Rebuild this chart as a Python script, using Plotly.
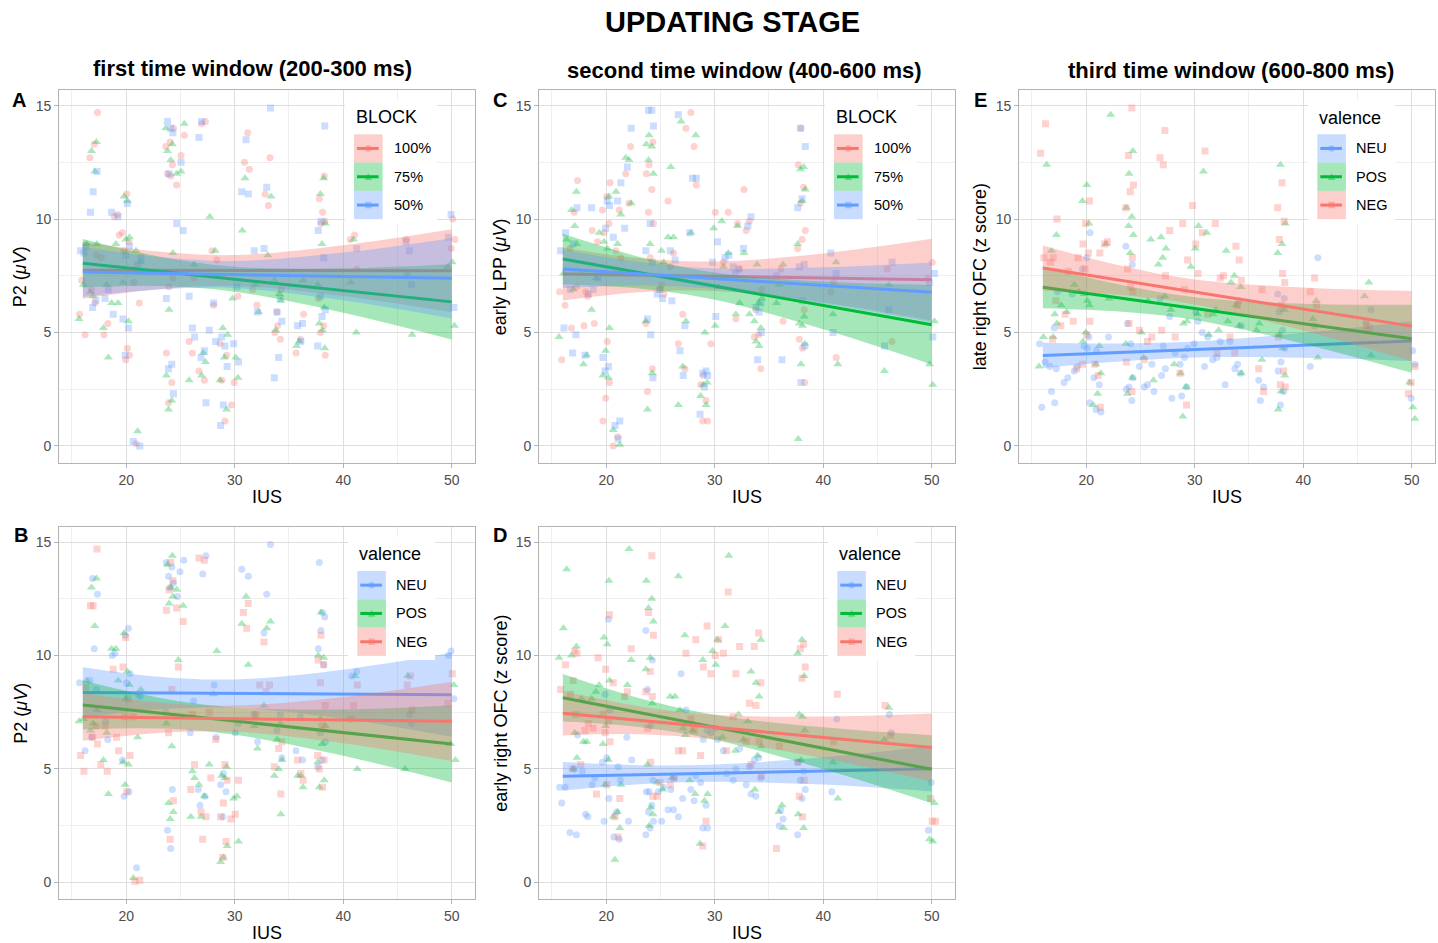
import plotly.graph_objects as go

W, H = 1438, 943
RED, GREEN, BLUE = "#F8766D", "#00BA38", "#619CFF"
FONT = "Liberation Sans, Arial, sans-serif"

# ---------------- data (IUS column -> values) ----------------
IUS_TICKS = [20, 30, 40, 50]
Y_TICKS = [0, 5, 10, 15]
FIT_X = [16, 50]
BAND_X = [16, 23, 30, 40, 50]

# Panel A : P2, by BLOCK
A_100 = {16: [5.8, 4.9, 7.3], 17: [14.7, 13.3, 12.7, 8.4, 6.9, 6.3], 18: [5.4, 4.9, 8.3], 19: [10.2, 10.1, 9.3],
         20: [11.1, 9.4, 9.0, 8.6, 4.3, 4.0, 3.8], 21: [7.2, 6.3, 0.1],
         24: [14.0, 13.4, 13.2, 12.4, 12.0, 11.9, 7.4, 7.0, 4.1, 2.8, 1.9], 25: [13.7, 12.8, 11.5], 26: [7.4, 4.6, 4.1],
         27: [14.3, 14.2, 3.3, 2.9], 28: [8.6, 8.2, 6.2], 29: [4.5, 4.0, 2.9, 1.1], 30: [6.6, 2.8, 1.8],
         31: [13.8, 12.5, 12.2], 32: [6.2, 6.9], 33: [12.7, 11.1, 10.6], 34: [6.9, 5.3, 5.0, 4.7, 5.9],
         36: [5.8, 4.7, 4.1], 38: [11.9, 10.9, 10.3, 9.9, 9.8, 6.5, 5.3, 5.0, 4.0], 41: [9.3, 9.1, 7.8], 46: [9.1],
         50: [10.0, 9.1, 8.7]}
A_75 = {16: [8.9, 7.1, 5.6], 17: [13.4, 13.0, 12.1, 8.9, 6.6, 6.8], 18: [7.1, 5.2, 3.9], 19: [8.9, 6.3, 6.3],
        20: [11.0, 10.8, 9.2, 9.1, 7.2, 5.5], 21: [8.6, 8.1, 0.65],
        24: [14.0, 13.3, 13.0, 12.6, 8.5, 6.0, 3.1, 2.0, 1.6], 25: [14.2, 12.1, 12.0], 26: [8.0, 2.9],
        27: [4.1, 3.7, 3.1], 28: [10.1, 8.6], 29: [5.2, 4.9, 3.9, 2.9, 1.6], 30: [6.5, 3.9, 3.0], 31: [11.8, 9.5],
        32: [5.9, 7.1], 33: [11.0, 8.4], 34: [7.3, 6.4, 5.1, 6.7], 36: [7.3, 4.6, 4.4],
        38: [11.8, 11.1, 9.8, 8.9, 7.1, 6.1, 5.4, 5.1, 4.3], 41: [9.1, 7.2, 5.0], 46: [7.6, 4.9], 50: [8.1, 7.9, 5.3]}
A_50 = {16: [8.8, 8.6, 8.5], 17: [12.1, 11.2, 10.3, 6.4, 6.1], 18: [6.9, 6.5], 19: [10.3, 10.1, 5.8],
        20: [10.7, 8.8, 8.4, 5.6, 5.2, 4.0], 21: [8.3, 8.0, 0.2, 0.0], 24: [14.3, 14.0, 13.8, 12.0, 6.5, 3.6, 3.4, 2.3],
        25: [12.5, 9.8, 9.5], 26: [6.6, 5.2, 4.8], 27: [14.3, 13.6, 4.2, 3.9, 1.9], 28: [6.3, 5.1, 4.6],
        29: [4.8, 4.4, 3.5, 1.8, 0.9], 30: [7.0, 4.5, 3.7], 31: [13.5, 11.2, 11.1], 32: [8.6, 5.9],
        33: [14.9, 11.4, 8.7], 34: [6.5, 5.9, 5.5, 3.9, 3.0], 36: [5.4, 5.3, 4.6],
        38: [14.1, 9.9, 9.5, 8.3, 6.6, 6.0, 5.7, 4.4], 41: [8.7], 46: [9.0, 8.6, 7.1], 50: [10.2, 9.2, 6.1]}
A_100_fit, A_100_half = [7.74, 7.72], [1.25, 0.83, 0.68, 1.12, 1.83]
A_75_fit, A_75_half = [8.05, 6.35], [1.07, 0.65, 0.55, 0.98, 1.66]
A_50_fit, A_50_half = [7.67, 7.39], [1.10, 0.72, 0.60, 1.05, 1.77]

# Panel C : early LPP, by BLOCK
C_100 = {16: [6.8, 6.2, 3.8], 17: [11.7, 10.3, 8.7, 7.0, 5.2], 18: [6.8, 6.6, 5.3], 19: [9.5, 9.0, 5.4],
         20: [11.6, 11.0, 10.4, 9.8, 9.4, 4.6, 2.8, 2.1, 1.1], 21: [10.4, 8.6, 8.3, 0.4, 0.0], 22: [13.2, 12.0, 10.7],
         24: [13.4, 12.4, 12.0, 11.3, 10.3, 9.8, 8.3, 5.4, 3.4, 2.4], 25: [7.1, 6.7, 6.9], 26: [10.8, 8.5, 7.9],
         27: [14.0, 5.8, 4.5, 3.4], 28: [14.7, 13.2, 11.5], 29: [3.1, 2.7, 2.0, 1.1, 1.1], 30: [10.3, 4.5],
         31: [10.3, 8.1], 32: [9.8, 7.8, 5.6], 33: [11.3, 9.9, 9.5], 34: [6.9, 4.9, 4.8, 3.4, 6.0], 36: [7.8, 5.5],
         38: [14.0, 12.4, 11.4, 10.7, 9.5, 9.1, 8.7, 6.0, 4.7, 4.3, 2.8], 41: [7.2, 6.8, 3.9], 46: [7.8, 4.6],
         50: [8.1, 7.4]}
C_75 = {16: [9.1, 7.6, 4.8], 17: [11.2, 10.4, 9.7, 8.9, 6.9], 18: [7.6, 4.0, 3.6], 19: [9.4, 7.4, 6.0],
        20: [11.0, 9.0, 8.7, 5.2, 4.2, 3.1, 3.0], 21: [11.2, 10.2, 8.9, 0.7, 0.05], 22: [12.7, 12.6, 10.7],
        24: [13.7, 13.3, 13.2, 12.6, 12.0, 8.9, 5.5, 3.2, 1.6], 25: [8.6, 8.1], 26: [12.3, 9.2, 9.2],
        27: [14.3, 5.5, 3.5, 1.8], 28: [13.7, 9.4], 29: [5.0, 2.8, 2.7, 2.2, 1.8], 30: [9.6, 7.0, 5.3],
        31: [9.9, 8.5, 7.9], 32: [9.7, 6.3, 5.8], 33: [8.5, 5.8], 34: [8.0, 6.5, 6.3, 5.5, 5.2, 4.6, 4.4],
        36: [8.0, 7.1, 6.3], 38: [12.3, 12.2, 11.3, 10.8, 8.9, 5.7, 5.4, 5.3, 4.5, 3.6, 0.3], 41: [8.1, 5.8, 3.6],
        46: [7.1, 3.3], 50: [5.5, 3.6, 2.7]}
C_50 = {16: [9.4, 8.6, 5.2], 17: [10.5, 8.9, 6.9, 4.9, 4.1], 18: [6.7, 4.0], 19: [10.5, 7.4, 6.9],
        20: [10.8, 10.6, 9.6, 3.9, 3.5, 3.3], 21: [11.6, 10.8, 9.2, 1.1, 0.9, 0.3], 22: [14.0, 12.3, 9.6],
        24: [14.8, 14.8, 14.1, 9.8, 8.6, 8.1, 5.6, 4.9, 3.0], 25: [6.9, 6.7, 6.5], 26: [8.6, 8.2, 6.4],
        27: [14.6, 5.3, 4.2, 3.1], 28: [11.8, 11.8, 9.4], 29: [3.3, 3.2, 3.1, 2.6, 1.4], 30: [9.0, 8.1, 5.7],
        31: [8.4, 8.3], 32: [7.9, 7.8, 7.6], 33: [10.1, 9.7, 8.7], 34: [6.3, 6.1, 5.9, 5.0, 3.8], 36: [7.5, 3.8],
        38: [14.0, 13.2, 10.9, 10.5, 8.0, 7.9, 6.4, 4.4, 2.8], 41: [8.5, 7.6, 5.0], 46: [8.1, 6.0, 4.4],
        50: [7.6, 7.2, 4.8]}
C_100_fit, C_100_half = [7.58, 7.33], [1.17, 0.75, 0.65, 1.08, 1.80]
C_75_fit, C_75_half = [8.24, 5.34], [1.11, 0.70, 0.60, 1.05, 1.75]
C_50_fit, C_50_half = [7.80, 6.77], [0.85, 0.52, 0.45, 0.80, 1.32]

# Panel E : late right OFC, by valence
E_NEU = {16: [4.5, 3.7, 1.7], 17: [6.8, 5.2, 3.5, 3.4, 2.4, 1.9], 18: [3.0, 2.8], 19: [6.7, 3.5, 3.3],
         20: [9.4, 8.3, 7.8, 4.8, 4.4, 4.3, 1.9], 21: [4.2, 3.0, 2.7, 1.6, 1.5], 22: [4.8],
         24: [8.8, 8.0, 5.4, 4.5, 3.0, 2.6, 2.5, 2.0], 25: [3.5, 2.6], 26: [3.6, 2.7, 2.4], 27: [6.5, 4.4, 3.4, 3.1],
         28: [5.7, 4.1, 2.1], 29: [4.3, 3.9, 3.6, 2.6, 2.2], 30: [5.9, 5.5, 4.5], 31: [5.0, 4.8, 3.5],
         32: [4.6, 3.9, 3.8], 33: [4.6, 2.7], 34: [6.4, 5.3, 3.6, 3.4, 3.2], 36: [2.9, 2.6, 2.0],
         38: [6.7, 6.5, 5.9, 5.1, 4.3, 3.7, 3.3, 2.4, 1.8], 41: [8.3, 5.3, 3.5], 46: [6.0, 5.5], 50: [4.2, 3.6, 2.1]}
E_POS = {16: [12.4, 4.8, 3.5], 17: [9.3, 8.6, 5.8, 5.4, 4.8], 18: [6.2, 5.9], 19: [7.1, 6.8],
         20: [11.5, 10.8, 9.8, 6.7, 6.4, 6.2, 5.0, 4.6], 21: [4.4, 3.6, 3.2, 2.3, 1.8], 22: [14.6, 8.9, 6.5],
         24: [13.0, 12.0, 10.5, 10.1, 9.7, 9.3, 8.5, 4.5, 3.0, 2.3], 25: [5.0, 3.9], 26: [9.1, 6.4, 2.9],
         27: [9.2, 8.7, 8.3, 8.0, 6.6], 28: [6.0, 3.6], 29: [5.5, 5.4, 3.2, 2.6, 1.3], 30: [9.7, 8.7, 7.9, 5.8],
         31: [12.1, 9.4, 4.9], 32: [6.0, 5.8, 5.1], 33: [8.6, 7.2, 5.5], 34: [7.5, 7.0, 6.2, 5.3, 3.2],
         36: [5.4, 5.1, 3.8], 38: [12.4, 9.8, 8.9, 8.5, 6.0, 4.9, 4.3, 3.1, 2.4, 1.6], 41: [6.4, 5.6, 3.9],
         46: [7.2, 6.6, 4.0], 50: [2.8, 1.7, 1.2]}
E_NEG = {16: [14.2, 12.9, 8.3], 17: [10.0, 8.3, 8.1, 6.4, 4.7], 18: [7.7, 5.8, 5.3], 19: [8.3, 5.5, 3.4],
         20: [10.8, 9.8, 8.9, 8.5, 7.8, 5.5, 4.9, 3.6], 21: [8.5, 3.6, 3.1, 1.7], 22: [9.0, 8.9],
         24: [14.9, 12.8, 11.5, 11.2, 10.5, 8.3, 7.8, 7.0, 6.8, 5.4, 3.7, 2.4], 25: [5.1, 3.8], 26: [4.8, 4.6],
         27: [13.9, 12.7, 12.4, 7.5, 5.1], 28: [9.5, 4.8], 29: [9.8, 8.2, 6.9, 3.2, 1.8], 30: [10.6, 8.9, 7.6],
         31: [13.0, 9.4, 5.8], 32: [9.8, 7.4, 4.1], 33: [7.5, 4.8], 34: [8.8, 8.2, 7.3, 6.2, 4.1],
         36: [6.9, 3.4, 2.4], 38: [11.6, 10.5, 9.9, 9.1, 7.6, 7.2, 6.2, 4.8, 3.3, 2.7, 2.6], 41: [7.4, 6.8, 6.2],
         46: [5.3, 5.2], 50: [3.5, 2.8, 2.3]}
E_NEU_fit, E_NEU_half = [3.99, 4.62], [0.56, 0.40, 0.35, 0.55, 0.88]
E_POS_fit, E_POS_half = [6.99, 4.72], [0.92, 0.60, 0.50, 0.88, 1.50]
E_NEG_fit, E_NEG_half = [7.84, 5.28], [1.00, 0.65, 0.55, 0.95, 1.55]

# Panel B : P2, by valence
B_NEU = {16: [8.8, 5.8], 17: [13.4, 12.7, 10.3, 8.9, 8.5, 6.4], 18: [7.1, 6.3], 19: [10.1, 10.0],
         20: [11.2, 10.9, 9.2, 8.8, 5.4, 4.0, 3.8], 21: [8.3, 8.2, 0.65],
         24: [14.1, 13.9, 13.5, 13.2, 13.0, 7.5, 4.1, 2.3, 1.5], 25: [14.2, 13.7, 12.6], 26: [8.0, 6.6],
         27: [14.4, 13.6, 4.1, 3.8, 3.4], 28: [8.7, 6.4], 29: [4.8, 4.3, 4.0, 2.9], 30: [7.0, 6.6],
         31: [13.8, 13.5], 32: [7.4, 6.2], 33: [14.9, 12.7, 11.0], 34: [7.4, 6.7, 5.5], 36: [7.3, 5.8, 5.4],
         38: [14.1, 11.9, 11.7, 11.1, 10.3, 9.6, 6.6, 6.2, 5.4, 5.1], 41: [9.3, 9.1], 46: [7.4, 7.0],
         50: [10.2, 10.0, 8.1]}
B_POS = {16: [8.9, 7.2, 7.1], 17: [13.4, 13.0, 11.3, 7.6, 7.0, 6.7], 18: [6.6, 5.4, 3.9], 19: [10.3, 10.3, 8.9],
         20: [11.0, 9.3, 8.7, 8.1, 5.3, 5.2, 4.3], 21: [8.5, 6.4, 0.2],
         24: [14.4, 14.0, 13.0, 12.6, 12.3, 7.0, 6.0, 3.5, 3.1, 2.8], 25: [12.9, 12.2, 9.8], 26: [4.9, 4.6, 2.9],
         27: [4.3, 3.8, 2.9], 28: [10.2, 8.3, 5.2], 29: [5.1, 4.7, 4.6, 1.6, 1.1, 0.9], 30: [3.8, 3.7, 1.8],
         31: [12.6, 11.4, 9.6], 32: [6.9, 5.9], 33: [11.5, 11.2, 7.8], 34: [7.0, 6.3, 5.4, 5.0, 4.7, 3.0],
         36: [4.7, 4.7, 4.2], 38: [11.9, 10.0, 9.9, 7.2, 6.9, 6.1, 5.3, 4.5, 4.2], 41: [9.1, 5.0], 46: [9.1, 5.0],
         50: [8.7, 6.1, 5.4]}
B_NEG = {16: [8.6, 5.6, 4.9], 17: [14.7, 12.2, 12.2, 6.9, 6.4, 6.1], 18: [6.9, 5.2, 4.9], 19: [9.4, 6.4, 5.8],
         20: [10.8, 9.5, 8.1, 7.3, 5.6, 4.0], 21: [7.3, 0.1, 0.05], 24: [14.1, 13.3, 12.9, 12.0, 8.5, 6.6, 3.6, 1.9],
         25: [12.1, 11.5, 9.5], 26: [7.4, 5.2, 4.1], 27: [14.3, 14.2, 3.1, 2.9, 1.9], 28: [7.5, 6.3, 4.6],
         29: [5.2, 4.5, 3.5, 2.9, 1.8, 1.1], 30: [4.5, 3.0, 2.8], 31: [12.3, 11.9, 11.2], 32: [8.7, 7.4],
         33: [10.6, 8.7, 8.4], 34: [6.2, 5.9, 5.1, 3.9], 36: [5.4, 4.8, 4.5],
         38: [10.9, 9.8, 9.6, 8.8, 7.8, 6.9, 5.6, 5.4, 5.0, 4.2], 41: [8.7, 7.8, 7.2], 46: [9.1, 8.7, 7.6],
         50: [9.2, 7.9]}
B_NEU_fit, B_NEU_half = [8.37, 8.27], [1.12, 0.72, 0.62, 1.08, 1.85]
B_POS_fit, B_POS_half = [7.82, 6.10], [1.08, 0.68, 0.60, 1.02, 1.70]
B_NEG_fit, B_NEG_half = [7.30, 7.10], [1.05, 0.67, 0.58, 1.02, 1.75]

# Panel D : early right OFC, by valence
D_NEU = {16: [4.2, 4.2, 3.5], 17: [6.5, 5.0, 2.2, 2.1], 18: [4.9, 3.0, 2.9], 19: [4.6, 4.3],
         20: [11.6, 8.3, 7.6, 5.5, 5.3, 3.7, 2.7], 21: [5.1, 4.5, 3.1, 2.0, 1.9], 22: [6.4, 5.4, 2.7],
         24: [11.1, 9.8, 8.5, 6.9, 4.5, 4.0, 4.0, 3.4, 3.1, 2.7, 2.4, 2.1], 25: [4.2, 4.0, 2.7],
         26: [4.6, 4.1, 3.2, 3.2], 27: [9.2, 7.6, 3.7, 2.9], 28: [4.7, 4.1, 3.6], 29: [6.7, 6.3, 4.4, 3.4, 2.4, 2.4],
         30: [6.8, 6.6, 6.3], 31: [5.8, 4.8], 32: [5.9, 5.0, 4.5], 33: [5.1, 4.3, 3.9], 34: [5.5, 5.4, 4.6, 3.8],
         36: [3.2, 2.8, 2.5], 38: [5.3, 4.9, 4.5, 4.1, 3.7, 2.1], 41: [7.2, 4.0], 46: [7.4, 6.6], 50: [4.4, 2.3]}
D_POS = {16: [13.8, 11.2, 9.9], 17: [10.4, 10.0, 6.6, 5.5, 5.0], 18: [8.1, 6.2, 6.2], 19: [8.7, 8.4, 8.1],
         20: [13.3, 10.8, 10.5, 8.9, 6.9, 6.1, 5.4, 4.3], 21: [4.3, 3.1, 2.9, 2.4, 1.0], 22: [14.7, 9.8, 8.7],
         24: [13.3, 12.5, 12.1, 11.5, 9.9, 9.4, 7.9, 5.2, 3.3, 3.0, 2.5], 25: [4.4, 4.1], 26: [8.2, 8.2, 4.6],
         27: [13.5, 10.9, 7.6, 6.8, 6.5], 28: [6.7, 4.5, 3.9], 29: [9.8, 3.9, 3.6, 1.7], 30: [10.7, 10.2, 9.6],
         31: [14.4, 11.3, 6.4], 32: [7.4, 5.8], 33: [9.3, 7.1, 6.3], 34: [10.7, 8.8, 8.2, 6.0, 5.6, 4.1],
         36: [3.4, 3.1, 2.4], 38: [10.7, 10.1, 9.1, 7.4, 7.3, 6.7, 5.4, 3.0, 2.4], 41: [5.3, 3.7], 46: [7.7, 6.3],
         50: [3.5, 1.9, 1.8]}
D_NEG = {16: [9.6, 8.5], 17: [10.2, 10.1, 8.9, 8.3, 7.4, 5.0], 18: [7.0, 6.7, 5.2], 19: [9.9, 6.8, 3.9],
         20: [11.8, 9.4, 7.4, 7.1, 6.6, 6.2, 4.3], 21: [8.8, 3.7, 2.9, 2.0], 22: [10.3, 8.4, 8.2],
         24: [14.4, 11.9, 10.9, 9.3, 8.4, 8.2, 6.8, 5.3, 3.8], 25: [4.4, 3.8], 26: [4.6, 4.3], 27: [10.1, 5.8, 5.8],
         28: [10.7, 7.2, 6.7], 29: [11.3, 9.5, 5.6, 2.7, 1.6], 30: [10.7, 10.0, 9.2], 31: [12.8, 10.1, 5.8],
         32: [10.4, 9.2, 7.3], 33: [7.9, 6.2, 5.2], 34: [11.0, 10.4, 8.8, 7.8, 6.2, 4.7], 36: [6.0, 1.5],
         38: [10.5, 10.3, 9.5, 9.0, 5.3, 4.5, 3.8, 2.9], 41: [8.3, 6.2], 46: [7.8, 6.5], 50: [3.7, 2.7, 2.7]}
D_NEU_fit, D_NEU_half = [4.68, 5.01], [0.63, 0.42, 0.38, 0.60, 1.00]
D_POS_fit, D_POS_half = [8.14, 4.99], [1.05, 0.64, 0.55, 0.92, 1.50]
D_NEG_fit, D_NEG_half = [7.46, 5.95], [0.98, 0.62, 0.55, 0.92, 1.50]

# ---------------- helpers ----------------
JIT = [-0.3, 0.2, -0.1, 0.35, 0.05, -0.35, 0.25, -0.2, 0.1, 0.3, -0.05]


def fx(px):
    return px / W


def fy(py):
    return 1 - py / H


def rgba(hexc, a):
    h = hexc.lstrip("#")
    return "rgba(%d,%d,%d,%.2f)" % (int(h[0:2], 16), int(h[2:4], 16), int(h[4:6], 16), a)


def points(d, shift):
    xs, ys = [], []
    k = shift
    for col, vals in d.items():
        for v in vals:
            xs.append(col + JIT[k % len(JIT)])
            ys.append(v)
            k += 1
    return xs, ys


SYM = {"circle": 7, "triangle-up": 8, "square": 7}

# panel geometry in page pixels: left, right, top, bottom
PANELS = [
    dict(name="A", ax="", box=(59.3, 475, 90, 462.7), ytitle="P2 (<i>μV</i>)", ltitle="BLOCK",
         series=[("100%", RED, "circle", A_100, A_100_fit, A_100_half),
                 ("75%", GREEN, "triangle-up", A_75, A_75_fit, A_75_half),
                 ("50%", BLUE, "square", A_50, A_50_fit, A_50_half)],
         letter=(18.5, 100), key_x=354, lab_x=392, lt_y=117.3, key_y0=134.3, lbox=(345, 437, 101, 224)),
    dict(name="C", ax="2", box=(539.3, 955, 90, 462.7), ytitle="early LPP (<i>μV</i>)", ltitle="BLOCK",
         series=[("100%", RED, "circle", C_100, C_100_fit, C_100_half),
                 ("75%", GREEN, "triangle-up", C_75, C_75_fit, C_75_half),
                 ("50%", BLUE, "square", C_50, C_50_fit, C_50_half)],
         letter=(500, 100), key_x=834, lab_x=872, lt_y=117.3, key_y0=134.3, lbox=(825, 917, 101, 224)),
    dict(name="E", ax="3", box=(1019.3, 1435, 90, 462.7), ytitle="late right OFC (z score)", ltitle="valence",
         series=[("NEU", BLUE, "circle", E_NEU, E_NEU_fit, E_NEU_half),
                 ("POS", GREEN, "triangle-up", E_POS, E_POS_fit, E_POS_half),
                 ("NEG", RED, "square", E_NEG, E_NEG_fit, E_NEG_half)],
         letter=(980, 100), key_x=1317.3, lab_x=1354, lt_y=118, key_y0=134.3, lbox=(1308, 1395, 101, 224)),
    dict(name="B", ax="4", box=(59.3, 475, 526.5, 899.2), ytitle="P2 (<i>μV</i>)", ltitle="valence",
         series=[("NEU", BLUE, "circle", B_NEU, B_NEU_fit, B_NEU_half),
                 ("POS", GREEN, "triangle-up", B_POS, B_POS_fit, B_POS_half),
                 ("NEG", RED, "square", B_NEG, B_NEG_fit, B_NEG_half)],
         letter=(20.5, 534.5), key_x=357.3, lab_x=394, lt_y=554.3, key_y0=571, lbox=(348, 435, 537, 660)),
    dict(name="D", ax="5", box=(539.3, 955, 526.5, 899.2), ytitle="early right OFC (z score)", ltitle="valence",
         series=[("NEU", BLUE, "circle", D_NEU, D_NEU_fit, D_NEU_half),
                 ("POS", GREEN, "triangle-up", D_POS, D_POS_fit, D_POS_half),
                 ("NEG", RED, "square", D_NEG, D_NEG_fit, D_NEG_half)],
         letter=(500.5, 534.5), key_x=837.3, lab_x=874, lt_y=554.3, key_y0=571, lbox=(828, 915, 537, 660)),
]

fig = go.Figure()
shapes, annotations = [], []
axis_common = dict(showline=True, mirror=True, linecolor="#b3b3b3", linewidth=1.2, zeroline=False,
                   showgrid=True, gridcolor="#dedede", gridwidth=1, ticks="outside", ticklen=4,
                   tickcolor="#b3b3b3", tickwidth=1, tickfont=dict(family=FONT, size=14, color="#4d4d4d"))

for p in PANELS:
    xa, ya = "x" + p["ax"], "y" + p["ax"]
    L, R, T, B = p["box"]
    # points
    for i, (lab, col, sym, d, fit, half) in enumerate(p["series"]):
        xs, ys = points(d, 3 * i)
        fig.add_trace(go.Scatter(x=xs, y=ys, mode="markers", xaxis=xa, yaxis=ya, showlegend=False,
                                 hoverinfo="skip",
                                 marker=dict(symbol=sym, size=SYM[sym], color=col, opacity=0.33,
                                             line=dict(width=0))))
    # ribbons + lines
    for i, (lab, col, sym, d, fit, half) in enumerate(p["series"]):
        centre = [fit[0] + (fit[1] - fit[0]) * (x - FIT_X[0]) / (FIT_X[1] - FIT_X[0]) for x in BAND_X]
        lower = [c - h for c, h in zip(centre, half)]
        upper = [c + h for c, h in zip(centre, half)]
        fig.add_trace(go.Scatter(x=BAND_X, y=lower, mode="lines", xaxis=xa, yaxis=ya, showlegend=False,
                                 hoverinfo="skip", line=dict(width=0, shape="spline", color=col)))
        fig.add_trace(go.Scatter(x=BAND_X, y=upper, mode="lines", xaxis=xa, yaxis=ya, showlegend=False,
                                 hoverinfo="skip", fill="tonexty", fillcolor=rgba(col, 0.35),
                                 line=dict(width=0, shape="spline", color=col)))
        fig.add_trace(go.Scatter(x=FIT_X, y=fit, mode="lines", xaxis=xa, yaxis=ya, showlegend=False,
                                 hoverinfo="skip", line=dict(width=3, color=col)))

    dom_x = [fx(L), fx(R)]
    dom_y = [fy(B), fy(T)]
    fig.layout["xaxis" + p["ax"]] = dict(axis_common, domain=dom_x, anchor=ya, range=[13.83, 52.15],
                                         tickvals=IUS_TICKS,
                                         minor=dict(tickvals=[15, 25, 35, 45], showgrid=True,
                                                    gridcolor="#efefef", gridwidth=1, ticks=""))
    fig.layout["yaxis" + p["ax"]] = dict(axis_common, domain=dom_y, anchor=xa, range=[-0.74, 15.69],
                                         tickvals=Y_TICKS,
                                         minor=dict(tickvals=[2.5, 7.5, 12.5], showgrid=True,
                                                    gridcolor="#efefef", gridwidth=1, ticks=""))

    # axis titles
    annotations.append(dict(x=fx((L + R) / 2), y=fy(T + 406.5), xref="paper", yref="paper", text="IUS",
                            showarrow=False, font=dict(family=FONT, size=18, color="black"),
                            xanchor="center", yanchor="middle"))
    annotations.append(dict(x=fx(L - 38.5), y=fy((T + B) / 2), xref="paper", yref="paper", text=p["ytitle"],
                            textangle=-90, showarrow=False, font=dict(family=FONT, size=18, color="black"),
                            xanchor="center", yanchor="middle"))
    # panel letter
    annotations.append(dict(x=fx(p["letter"][0]), y=fy(p["letter"][1]), xref="paper", yref="paper",
                            text="<b>%s</b>" % p["name"], showarrow=False,
                            font=dict(family=FONT, size=20, color="black"), xanchor="center", yanchor="middle"))

    # legend (drawn as a ggplot guide)
    lb = p["lbox"]
    shapes.append(dict(type="rect", xref="paper", yref="paper", x0=fx(lb[0]), x1=fx(lb[1]), y0=fy(lb[3]),
                       y1=fy(lb[2]), fillcolor="white", line=dict(width=0), layer="above"))
    annotations.append(dict(x=fx(p["key_x"]), y=fy(p["lt_y"]), xref="paper", yref="paper", text=p["ltitle"],
                            showarrow=False, font=dict(family=FONT, size=18, color="black"),
                            xanchor="left", yanchor="middle"))
    kh, kw = 28.3, 28.6
    for i, (lab, col, sym, d, fit, half) in enumerate(p["series"]):
        ky0 = p["key_y0"] + i * kh
        ky1 = ky0 + kh
        kx0 = p["key_x"]
        kx1 = kx0 + kw
        cy = (ky0 + ky1) / 2
        cx = (kx0 + kx1) / 2
        shapes.append(dict(type="rect", xref="paper", yref="paper", x0=fx(kx0), x1=fx(kx1), y0=fy(ky1),
                           y1=fy(ky0), fillcolor=rgba(col, 0.35), line=dict(width=0), layer="above"))
        r = 3.2
        if sym == "circle":
            shapes.append(dict(type="circle", xref="paper", yref="paper", x0=fx(cx - r), x1=fx(cx + r),
                               y0=fy(cy + r), y1=fy(cy - r), fillcolor=rgba(col, 0.45), line=dict(width=0),
                               layer="above"))
        elif sym == "square":
            shapes.append(dict(type="rect", xref="paper", yref="paper", x0=fx(cx - r), x1=fx(cx + r),
                               y0=fy(cy + r), y1=fy(cy - r), fillcolor=rgba(col, 0.45), line=dict(width=0),
                               layer="above"))
        else:
            path = "M %f %f L %f %f L %f %f Z" % (fx(cx), fy(cy - r - 0.5), fx(cx - r - 0.5), fy(cy + r),
                                                 fx(cx + r + 0.5), fy(cy + r))
            shapes.append(dict(type="path", xref="paper", yref="paper", path=path, fillcolor=rgba(col, 0.45),
                               line=dict(width=0), layer="above"))
        shapes.append(dict(type="line", xref="paper", yref="paper", x0=fx(kx0 + 3), x1=fx(kx1 - 4), y0=fy(cy),
                           y1=fy(cy), line=dict(color=col, width=3), layer="above"))
        annotations.append(dict(x=fx(p["lab_x"]), y=fy(cy), xref="paper", yref="paper", text=lab,
                                showarrow=False, font=dict(family=FONT, size=14.5, color="black"),
                                xanchor="left", yanchor="middle"))

# titles
annotations.append(dict(x=fx(732), y=fy(22), xref="paper", yref="paper", text="<b>UPDATING STAGE</b>",
                        showarrow=False, font=dict(family=FONT, size=29, color="black"),
                        xanchor="center", yanchor="middle", borderpad=0))
for txt, cx, cy in [("first time window (200-300 ms)", 252.5, 68),
                    ("second time window (400-600 ms)", 744, 71),
                    ("third time window (600-800 ms)", 1231, 70)]:
    annotations.append(dict(x=fx(cx), y=fy(cy), xref="paper", yref="paper", text="<b>%s</b>" % txt,
                            showarrow=False, font=dict(family=FONT, size=22, color="black"),
                            xanchor="center", yanchor="middle"))

fig.update_layout(width=W, height=H, margin=dict(l=0, r=0, t=0, b=0), plot_bgcolor="white",
                  paper_bgcolor="white", showlegend=False, shapes=shapes, annotations=annotations,
                  font=dict(family=FONT))

# remove the page's default 8px body margin so the figure fills the window exactly
fig.write_html("out.html", config={"displayModeBar": False},
               post_script="document.body.style.margin='0';document.body.style.overflow='hidden';")
